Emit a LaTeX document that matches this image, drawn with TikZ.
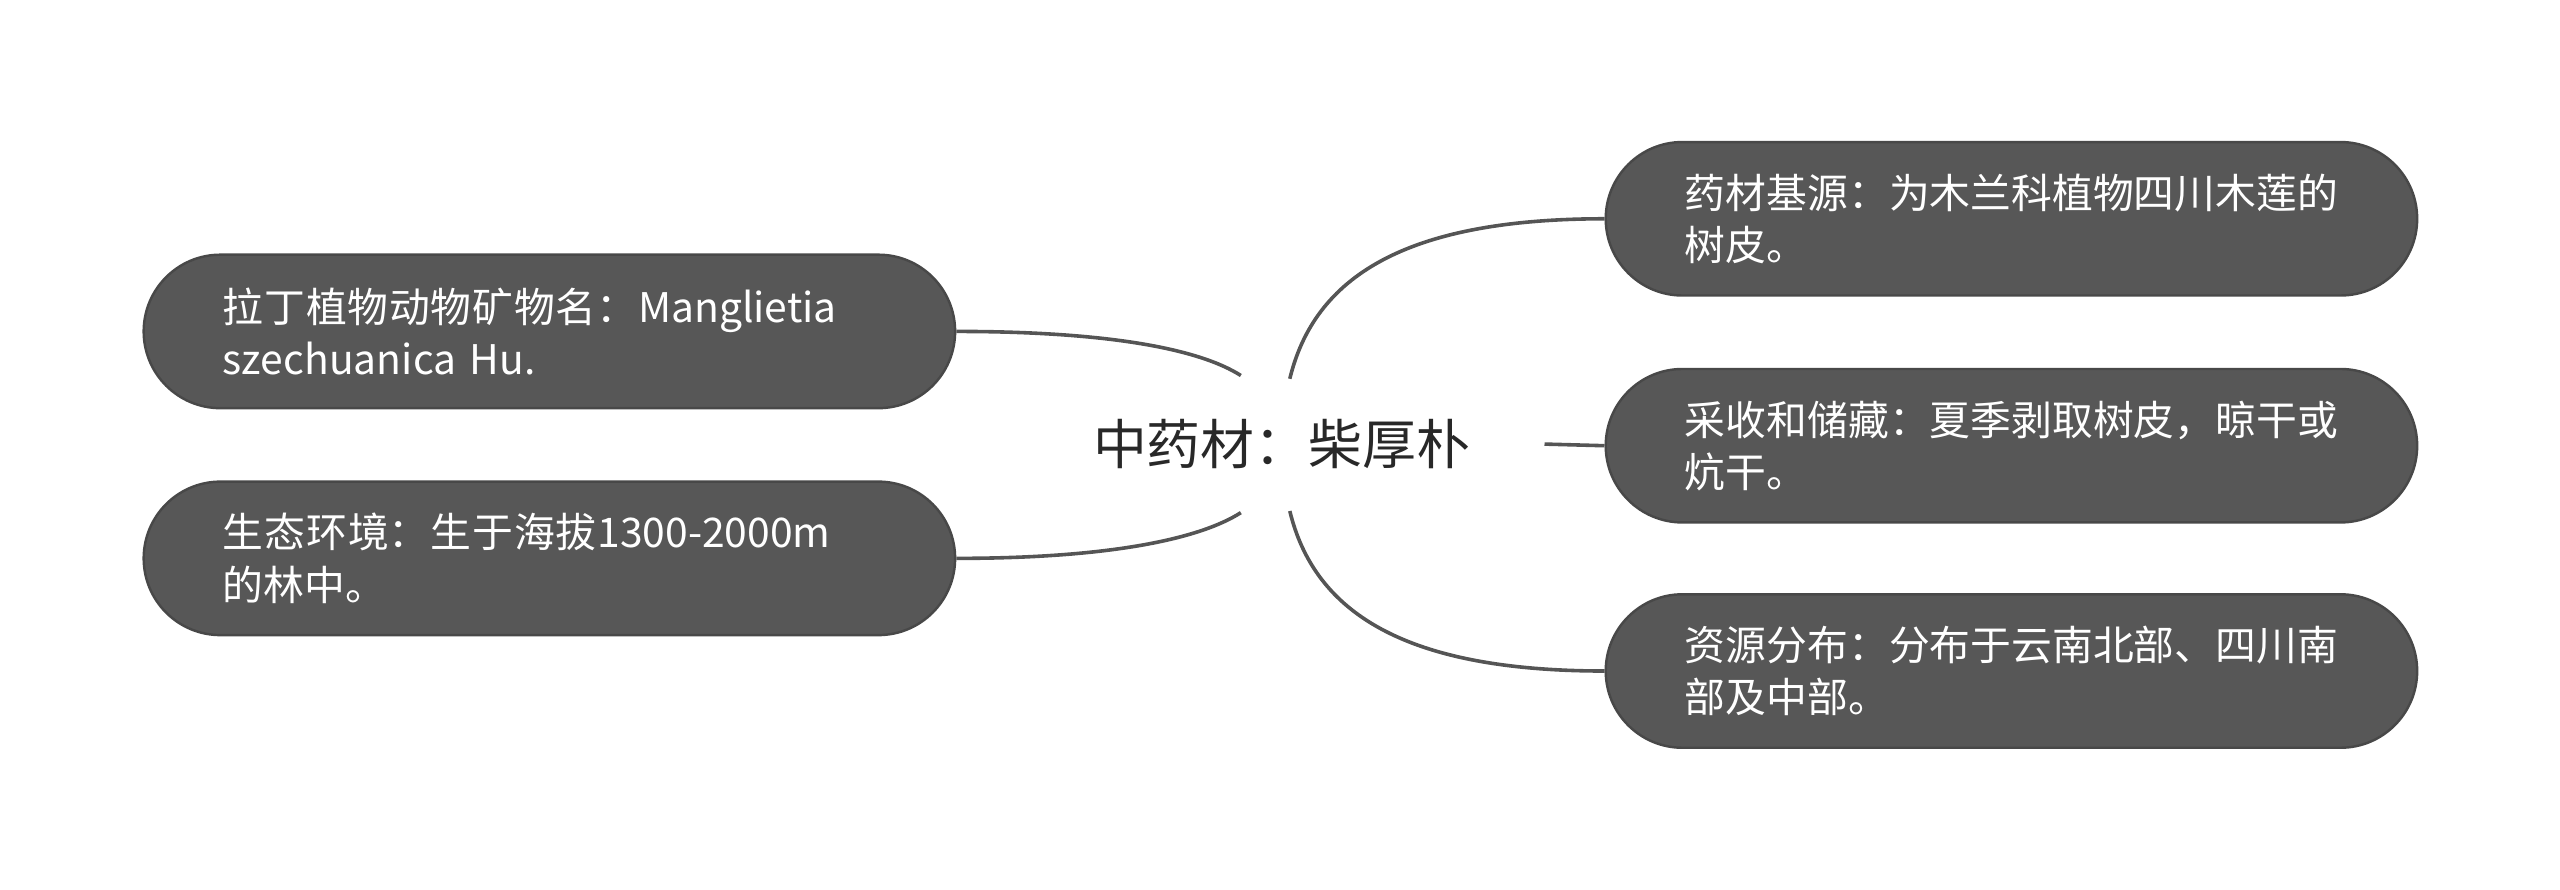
\documentclass[tikz,border=0pt]{standalone}
\usepackage{fontspec}
\newfontfamily\cjk{Noto Sans CJK SC}
\XeTeXlinebreaklocale "zh"
\XeTeXlinebreakskip=0pt plus 1pt
\tikzset{every picture/.style={line width=1.5pt}}
\tikzset{
  leaf/.style={draw={rgb,255:red,72;green,72;blue,72}, fill={rgb,255:red,87;green,87;blue,87}, rounded corners=47pt,
    minimum width=497pt, minimum height=94pt, text width=400pt, align=left, inner sep=0pt,
    text=white, font=\cjk\fontsize{25}{32}\selectfont},
  link/.style={draw={rgb,255:red,85;green,85;blue,85}, line width=2.2pt}
}
\begin{document}
\begin{tikzpicture}[x=1pt,y=1pt,yscale=-1,xscale=1]
\useasboundingbox (0,0) rectangle (1568,545);

% Text Node
\node (root) at (785,272) [font=\cjk\fontsize{33}{38}\selectfont, text={rgb,255:red,40;green,40;blue,40}] {中药材：柴厚朴};

% leaves
\node (latin) at (336.5,203) [leaf] {拉丁植物动物矿物名：Manglietia szechuanica Hu.};
\node (env) at (336.5,342) [leaf] {生态环境：生于海拔1300-2000m 的林中。};
\node (src) at (1232,134) [leaf] {药材基源：为木兰科植物四川木莲的树皮。};
\node (harv) at (1232,273) [leaf] {采收和储藏：夏季剥取树皮，晾干或炕干。};
\node (dist) at (1232,411) [leaf] {资源分布：分布于云南北部、四川南部及中部。};

% ends near root
\coordinate (rl1) at (760,230);
\coordinate (rl2) at (760,314);
\coordinate (rr1) at (790,232);
\coordinate (rr2) at (946,272);
\coordinate (rr3) at (790,313);

% connectors
\draw [link] (latin.east) .. controls (680,203) and (735,214) .. (rl1);
\draw [link] (env.east) .. controls (680,342) and (735,330) .. (rl2);
\draw [link] (rr1) .. controls (805,170) and (860,134) .. (src.west);
\draw [link] (rr2) -- (harv.west);
\draw [link] (rr3) .. controls (805,375) and (860,411) .. (dist.west);

\end{tikzpicture}
\end{document}
